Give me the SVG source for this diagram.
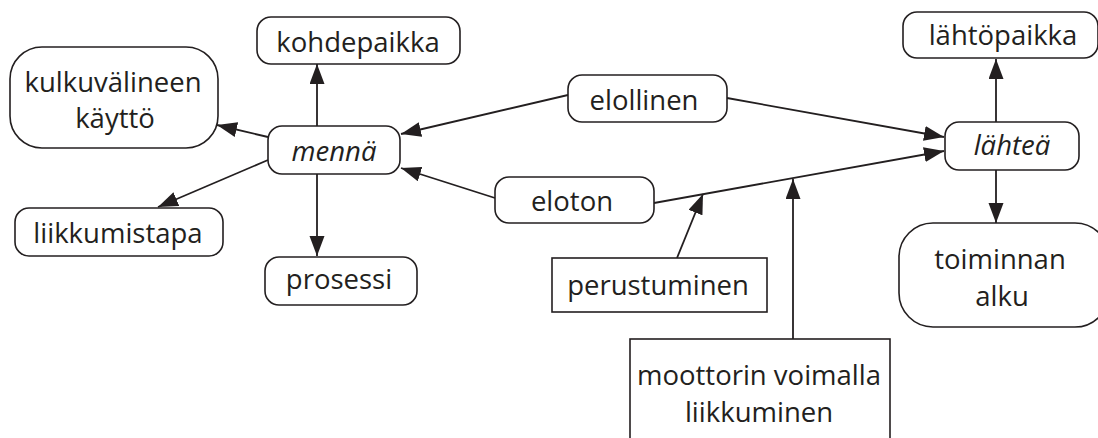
<svg xmlns="http://www.w3.org/2000/svg" width="1098" height="438" viewBox="0 0 1098 438">
<style>
.n{fill:#fff;stroke:#231f20;stroke-width:1.6}
.t{font-family:"Open Sans","Noto Sans",sans-serif;font-size:27.5px;fill:#231f20;text-anchor:middle}
.i{font-style:italic}
.c{stroke:#231f20;stroke-width:1.8;fill:none}
.a{marker-end:url(#ah)}
</style>
<defs>
<marker id="ah" markerUnits="userSpaceOnUse" markerWidth="21" markerHeight="16" refX="20" refY="7.5" orient="auto">
<path d="M0,0 L20,7.5 L0,15 z" fill="#231f20"/>
</marker>
</defs>
<g id="connectors">
<line class="c a" x1="317" y1="126" x2="317" y2="64"/>
<line class="c a" x1="268" y1="137" x2="217" y2="125"/>
<line class="c a" x1="268" y1="160" x2="158" y2="207"/>
<line class="c a" x1="317" y1="174" x2="317" y2="256"/>
<line class="c a" x1="568" y1="95" x2="401" y2="134"/>
<line class="c a" x1="495" y1="198" x2="401" y2="168"/>
<line class="c a" x1="727" y1="98" x2="944" y2="137"/>
<line class="c a" x1="654" y1="203" x2="944" y2="151"/>
<line class="c a" x1="996" y1="122" x2="996" y2="59"/>
<line class="c a" x1="996" y1="170" x2="996" y2="223"/>
<line class="c a" x1="677" y1="258" x2="703" y2="194"/>
<line class="c a" x1="793" y1="339" x2="793" y2="179"/>
</g>
<g id="kohdepaikka"><rect class="n" x="257" y="17" width="203" height="47" rx="14"/><text class="t" x="358" y="52">kohdepaikka</text></g>
<g id="kulkuvalineen"><rect class="n" x="10" y="47" width="208" height="101" rx="32"/><text class="t" x="113" y="92">kulkuvälineen</text><text class="t" x="115" y="128">käyttö</text></g>
<g id="menna"><rect class="n" x="268" y="126" width="132" height="48" rx="14"/><text class="t i" x="334" y="161">mennä</text></g>
<g id="liikkumistapa"><rect class="n" x="15" y="208" width="208" height="48" rx="14"/><text class="t" x="118" y="243">liikkumistapa</text></g>
<g id="prosessi"><rect class="n" x="265" y="257" width="152" height="48" rx="14"/><text class="t" x="339" y="289">prosessi</text></g>
<g id="elollinen"><rect class="n" x="568" y="75" width="159" height="47" rx="14"/><text class="t" x="644" y="110">elollinen</text></g>
<g id="eloton"><rect class="n" x="495" y="177" width="159" height="46" rx="14"/><text class="t" x="572" y="211">eloton</text></g>
<g id="lahtea"><rect class="n" x="945" y="122" width="134" height="48" rx="14"/><text class="t i" x="1012" y="155">lähteä</text></g>
<g id="lahtopaikka"><rect class="n" x="903" y="12" width="195" height="46" rx="14"/><text class="t" x="1003" y="45">lähtöpaikka</text></g>
<g id="toiminnan"><rect class="n" x="899" y="223" width="210" height="104" rx="34"/><text class="t" x="1000" y="269">toiminnan</text><text class="t" x="1002" y="306">alku</text></g>
<g id="perustuminen"><rect class="n" x="552" y="258" width="215" height="54"/><text class="t" x="658" y="295">perustuminen</text></g>
<g id="moottorin"><rect class="n" x="630" y="339" width="260" height="110"/><text class="t" x="759" y="385">moottorin voimalla</text><text class="t" x="759" y="422">liikkuminen</text></g>
</svg>
